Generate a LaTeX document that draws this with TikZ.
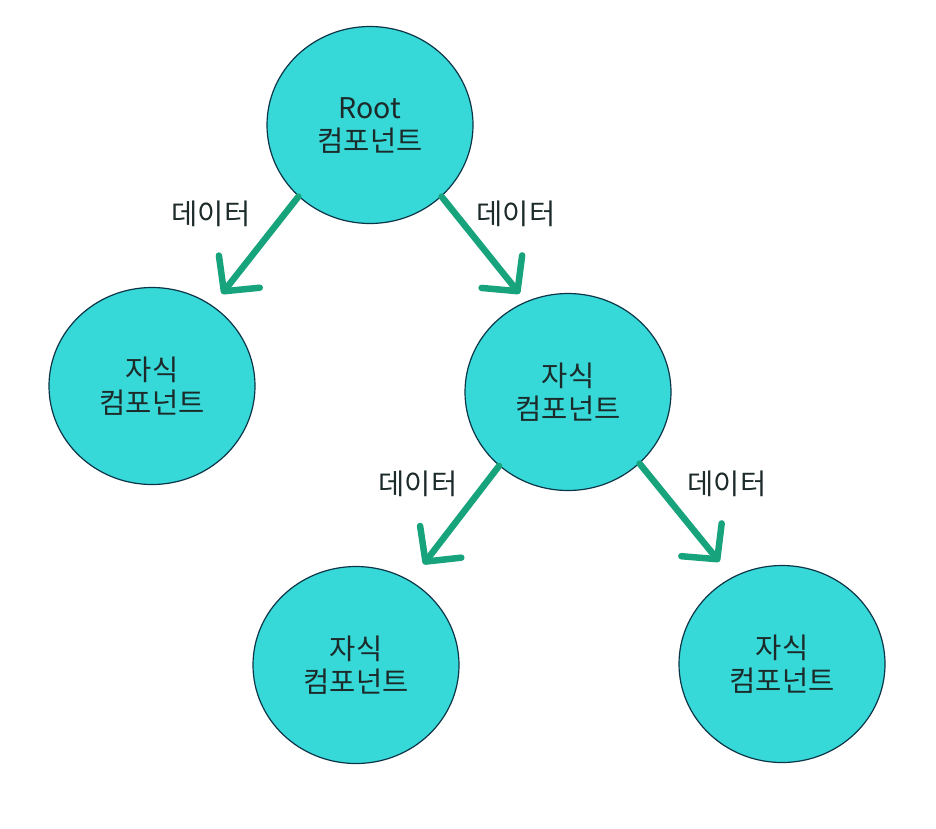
\documentclass[tikz,border=0pt]{standalone}
\usepackage{fontspec}
\setmainfont{Noto Sans CJK KR}
\usetikzlibrary{arrows.meta,shapes.geometric}
\definecolor{nodefill}{HTML}{36D9D8}
\definecolor{nodeline}{HTML}{0C3547}
\definecolor{arrowgreen}{HTML}{17A37C}
\definecolor{textdark}{HTML}{1C2A2A}
\begin{document}
\begin{tikzpicture}[
        x=1pt,y=-1pt,
        every node/.style={
                text=textdark,align=center,font=\fontsize{28.5}{33}\selectfont
            }
    ]
    \tikzset  {
        compnode/.style = {ellipse, draw=nodeline, fill=nodefill, line width=1.2pt, minimum width=206pt, minimum height=197pt, inner sep=0pt},
        dataarrow/.style = {draw=arrowgreen, line width=6.5pt, line cap=round, -{Straight Barb[length=25pt, width=52pt, round]}},
    }
    \useasboundingbox (0,0) rectangle (936,828);
    \node [compnode] (root) at (370,125) {Root\\컴포넌트};
    \node [compnode] (left) at (152,386) {자식\\컴포넌트};
    \node [compnode] (mid) at (568,392) {자식\\컴포넌트};
    \node [compnode] (botleft) at (356,665) {자식\\컴포넌트};
    \node [compnode] (botright) at (782,664) {자식\\컴포넌트};
    \draw [dataarrow, shorten >=15pt] (root.-135) -- (left.53);
    \draw [dataarrow, shorten >=10pt] (root.-45) -- (mid.115);
    \draw [dataarrow, shorten >=21pt] (mid.-133) -- (botleft.57);
    \draw [dataarrow, shorten >=20pt] (mid.-45) -- (botright.120);
    \node (lbla) at (211,214) {데이터};
    \node (lblb) at (516,214) {데이터};
    \node (lblc) at (418,484) {데이터};
    \node (lbld) at (727,484) {데이터};
\end{tikzpicture}
\end{document}
